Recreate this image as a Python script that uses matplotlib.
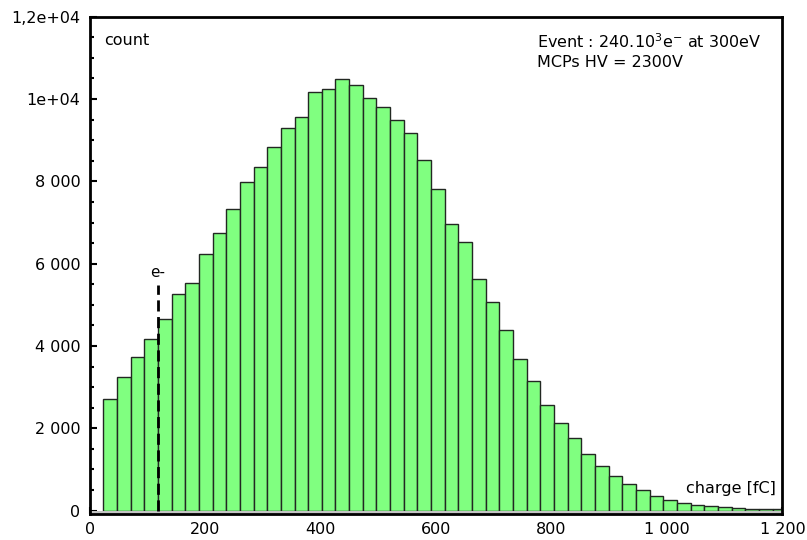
import numpy as np
import matplotlib
matplotlib.use("Agg")
from matplotlib import pyplot as plt
from matplotlib.ticker import MultipleLocator

bin_start = 23.1     # fC, left edge of first bin
bin_width = 23.67    # fC
counts = [2717, 3237, 3723, 4175, 4661, 5254, 5536, 6233, 6736, 7320,
          7983, 8355, 8841, 9288, 9570, 10177, 10236, 10479, 10340, 10017,
          9798, 9490, 9181, 8518, 7813, 6955, 6532, 5618, 5060, 4386,
          3674, 3147, 2576, 2119, 1755, 1373, 1081, 838, 637, 498,
          360, 255, 190, 134, 109, 85, 61, 49, 36, 29]

e_cut = 117.5        # single electron threshold
e_cut_top = 5490

xticks = [0, 200, 400, 600, 800, 1000, 1200]
xticklabels = ['0', '200', '400', '600', '800', '1 000', '1 200']
yticks = [0, 2000, 4000, 6000, 8000, 10000, 12000]
yticklabels = ['0', '2 000', '4 000', '6 000', '8 000', '1e+04', '1,2e+04']

plt.rcParams['font.family'] = 'DejaVu Sans'
plt.rcParams['mathtext.fontset'] = 'dejavusans'
plt.rcParams['mathtext.default'] = 'regular'

fig = plt.figure(figsize=(8.07, 5.4), dpi=100)
ax = fig.add_axes([0.1115, 0.048, 0.858, 0.921])

lefts = bin_start + bin_width * np.arange(len(counts))
ax.bar(lefts, counts, width=bin_width, align='edge',
       color='#80ff80', edgecolor='#222822', linewidth=1.0, zorder=2)

ax.set_xlim(0, 1200)
ax.set_ylim(-85, 12000)
ax.axhspan(-85, 0, color='#c4c4c4', zorder=3, lw=0)

ax.plot([e_cut, e_cut], [0, e_cut_top], ls=(0, (4, 2)), c='black', lw=2, zorder=4)
ax.text(e_cut, e_cut_top + 120, 'e-', ha='center', va='bottom', fontsize=11)

ax.set_xticks(xticks)
ax.set_xticklabels(xticklabels)
ax.set_yticks(yticks)
ax.set_yticklabels(yticklabels)
ax.xaxis.set_minor_locator(MultipleLocator(50))
ax.yaxis.set_minor_locator(MultipleLocator(500))
ax.tick_params(which='both', direction='in', labelsize=11.5, width=1.5, zorder=5)
ax.tick_params(which='major', length=5)
ax.tick_params(which='minor', length=3)
ax.tick_params(axis='x', pad=6)
ax.tick_params(axis='y', pad=7)
for s in ax.spines.values():
    s.set_linewidth(2)
    s.set_zorder(6)

ax.text(0.02, 0.953, 'count', transform=ax.transAxes, fontsize=11.5, va='center')
ax.text(0.646, 0.949, 'Event : 240.10$^{3}$e$^{-}$ at 300eV', transform=ax.transAxes,
        fontsize=11.5, va='center')
ax.text(0.646, 0.907, 'MCPs HV = 2300V', transform=ax.transAxes, fontsize=11.5, va='center')
ax.text(0.99, 0.052, 'charge [fC]', transform=ax.transAxes, fontsize=11.5,
        ha='right', va='center', zorder=7)

plt.savefig('out.png', dpi=100)
